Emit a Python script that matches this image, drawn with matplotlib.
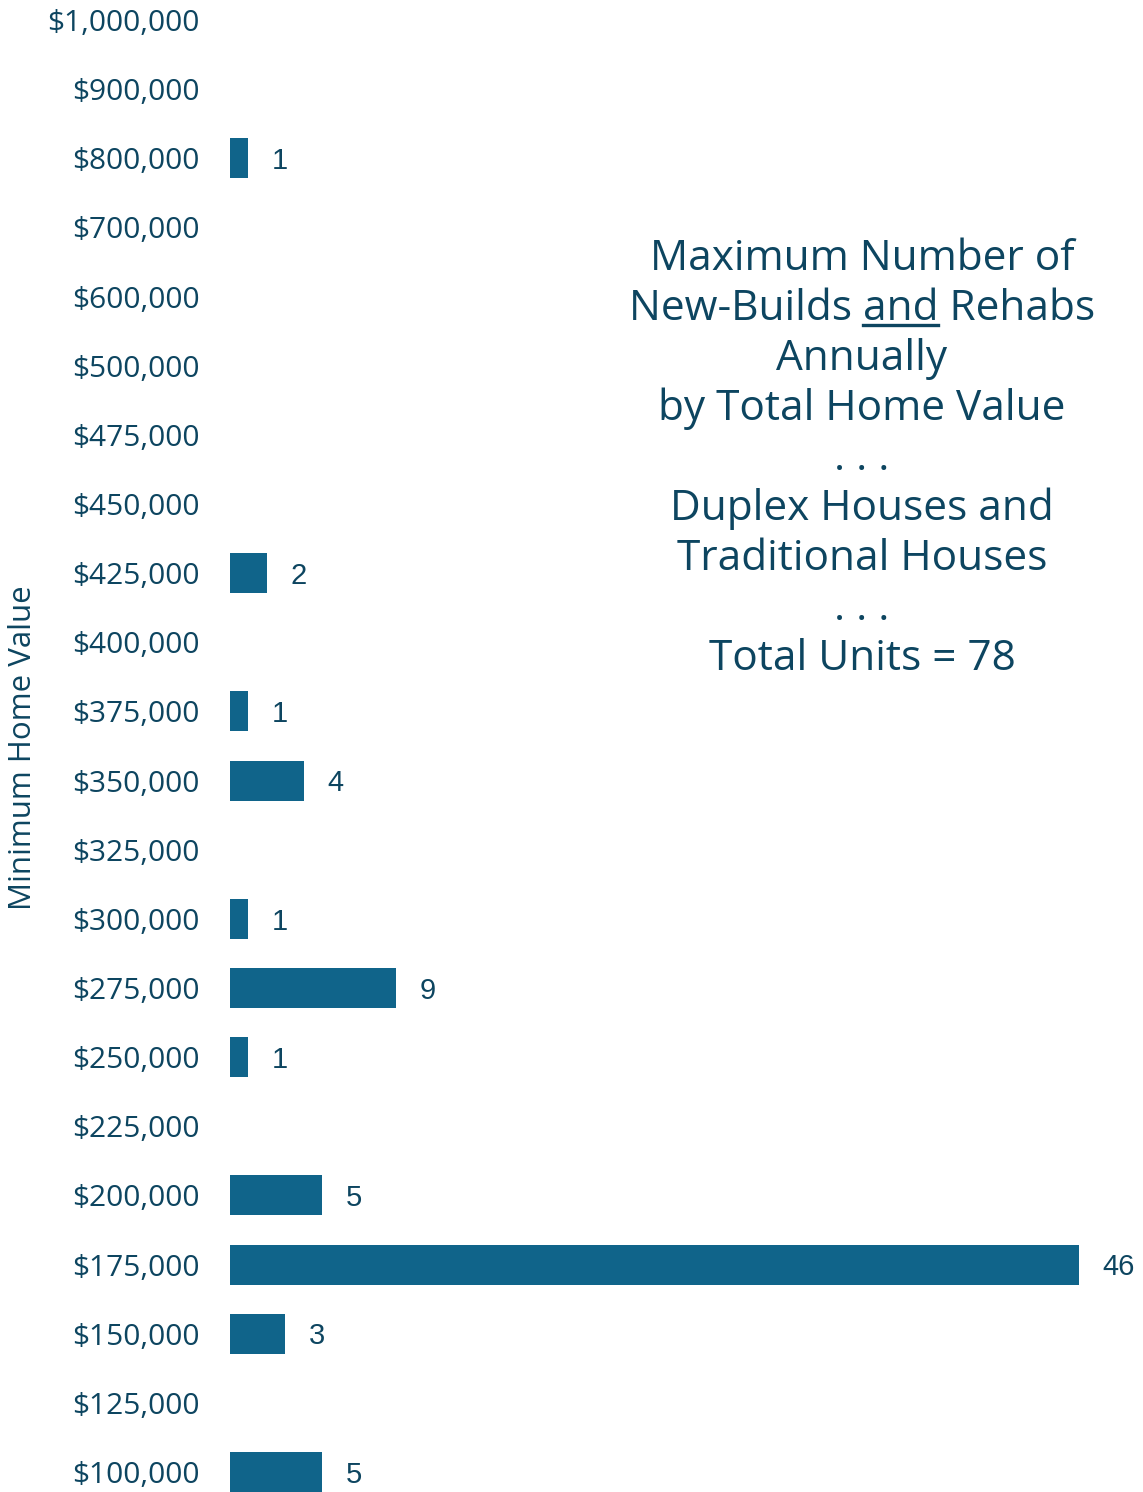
import matplotlib
matplotlib.use("Agg")
import matplotlib.pyplot as plt

categories = ["$1,000,000", "$900,000", "$800,000", "$700,000", "$600,000", "$500,000",
              "$475,000", "$450,000", "$425,000", "$400,000", "$375,000", "$350,000",
              "$325,000", "$300,000", "$275,000", "$250,000", "$225,000", "$200,000",
              "$175,000", "$150,000", "$125,000", "$100,000"]
units = [0, 0, 1, 0, 0, 0, 0, 0, 2, 0, 1, 4, 0, 1, 9, 1, 0, 5, 46, 3, 0, 5]

title_lines = ["Maximum Number of", "New-Builds and Rehabs", "Annually",
               "by Total Home Value", ". . .", "Duplex Houses and",
               "Traditional Houses", ". . .", "Total Units = 78"]

BAR = "#10648A"
TXT = "#0D4560"
FONT = ["Open Sans", "DejaVu Sans"]

W, H = 1143, 1492
fig = plt.figure(figsize=(W / 100, H / 100), dpi=100)
ax = fig.add_axes([230 / W, 0, (W - 230) / W, 1])

n = len(categories)
ypos = list(range(n))
ax.barh(ypos, units, height=0.58, color=BAR)
ax.set_yticks(ypos)
ax.set_yticklabels(categories, fontsize=21.5, color=TXT, family=FONT)
ax.tick_params(axis="y", length=0, pad=22)
ax.set_xticks([])
for s in ax.spines.values():
    s.set_visible(False)
step = (1472 - 20) / (n - 1)
ax.set_ylim(n - 1 + (H - 1472) / step, -20 / step)
ax.set_xlim(0, 46 * (W - 230) / (1079 - 230))

for i, v in enumerate(units):
    if v > 0:
        ax.annotate(str(v), (v, i), xytext=(17, -2), textcoords="offset points",
                    va="center", ha="left", fontsize=21, color=TXT,
                    family=["Liberation Sans Narrow", "Liberation Sans", "DejaVu Sans"])

fig.text(23 / W, 1 - 748 / H, "Minimum Home Value", rotation=90, ha="center",
         va="center", fontsize=22.5, color=TXT, family=FONT)

line_y = [259, 309, 359, 409, 459, 509, 559, 609, 659]
cx = 862 / W
TS = 30.5
fig.canvas.draw()
r = fig.canvas.get_renderer()
for txt, yp in zip(title_lines, line_y):
    t = fig.text(cx, 1 - yp / H, txt, ha="center", va="center", fontsize=TS,
                 color=TXT, family=FONT)
    if txt.startswith("New"):
        bb = t.get_window_extent(renderer=r)
        pre = fig.text(0, 0, "New-Builds ", fontsize=TS, family=FONT)
        mid = fig.text(0, 0, "New-Builds and", fontsize=TS, family=FONT)
        w_pre = pre.get_window_extent(renderer=r).width
        w_mid = mid.get_window_extent(renderer=r).width
        pre.remove(); mid.remove()
        x0 = (bb.x0 + w_pre) / W
        x1 = (bb.x0 + w_mid) / W
        yl = 1 - (yp + 16) / H
        fig.add_artist(plt.Line2D([x0, x1], [yl, yl], color=TXT, lw=2.4,
                                  transform=fig.transFigure))

fig.savefig("out.png", dpi=100)
